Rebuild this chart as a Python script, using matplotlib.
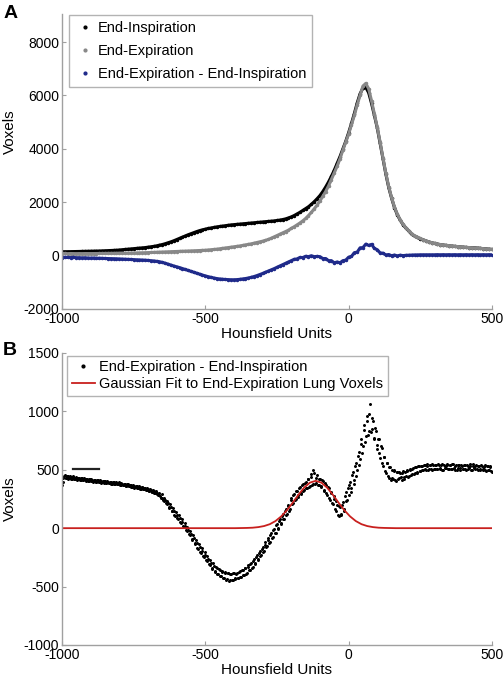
import numpy as np
import matplotlib.pyplot as plt
from matplotlib.lines import Line2D

plt.rcParams['font.family'] = ['Liberation Sans', 'DejaVu Sans']
plt.rcParams['axes.unicode_minus'] = False

# ---- panel A: voxel histograms, 10 HU bins ----
hu_a = np.arange(-1000, 501, 10)

end_insp = [
    150, 145, 145, 148, 150, 150, 152, 155, 158, 160,
    162, 165, 168, 172, 176, 180, 185, 190, 195, 200,
    210, 220, 230, 240, 250, 260, 270, 280, 290, 300,
    315, 330, 345, 365, 390, 415, 445, 480, 515, 555,
    600, 645, 690, 735, 780, 820, 860, 900, 935, 965,
    990, 1015, 1035, 1055, 1075, 1090, 1105, 1120, 1135, 1150,
    1160, 1170, 1180, 1190, 1200, 1210, 1220, 1230, 1240, 1250,
    1260, 1270, 1280, 1290, 1300, 1315, 1330, 1350, 1375, 1410,
    1450, 1500, 1560, 1620, 1690, 1760, 1830, 1920, 2020, 2130,
    2250, 2400, 2570, 2760, 2970, 3200, 3450, 3710, 3990, 4280,
    4600, 4950, 5320, 5720, 6060, 6280, 6300, 6100, 5700, 5250,
    4780, 4200, 3600, 3050, 2550, 2150, 1800, 1530, 1330, 1160,
    1030, 920, 800, 730, 680, 630, 590, 550, 510, 480,
    455, 430, 410, 395, 380, 365, 355, 345, 335, 325,
    315, 305, 300, 295, 290, 280, 270, 260, 250, 240,
    230,
]

end_exp = [
    75, 80, 72, 78, 75, 73, 76, 74, 77, 75,
    76, 78, 77, 79, 80, 81, 82, 83, 84, 85,
    86, 88, 90, 92, 94, 96, 99, 102, 105, 108,
    112, 116, 120, 124, 128, 132, 136, 140, 144, 148,
    152, 156, 160, 165, 170, 175, 180, 185, 190, 195,
    200, 210, 220, 230, 240, 255, 270, 285, 300, 315,
    330, 345, 360, 380, 400, 420, 440, 465, 490, 515,
    540, 570, 605, 650, 700, 750, 800, 850, 900, 950,
    1020, 1080, 1150, 1220, 1300, 1390, 1500, 1620, 1750, 1890,
    2050, 2220, 2400, 2610, 2850, 3100, 3350, 3630, 3950, 4250,
    4550, 4900, 5250, 5650, 6000, 6350, 6450, 6250, 5800, 5300,
    4800, 4250, 3650, 3080, 2580, 2170, 1820, 1550, 1340, 1170,
    1040, 930, 820, 740, 690, 640, 595, 555, 515, 485,
    460, 435, 415, 400, 385, 370, 358, 348, 338, 328,
    318, 308, 302, 296, 290, 282, 272, 262, 252, 242,
    232,
]

diff_a = [
    -90, -60, -70, -75, -65, -80, -78, -85, -80, -90,
    -95, -90, -100, -98, -105, -108, -110, -112, -118, -120,
    -125, -130, -135, -140, -145, -150, -155, -160, -165, -172,
    -180, -190, -200, -215, -230, -255, -285, -320, -355, -390,
    -420, -450, -485, -520, -555, -590, -625, -660, -695, -730,
    -760, -790, -815, -840, -860, -875, -885, -895, -900, -905,
    -905, -900, -890, -875, -860, -840, -815, -785, -750, -710,
    -670, -625, -580, -535, -490, -440, -390, -340, -290, -240,
    -190, -140, -125, -70, -75, -25, -40, -5, -40, -30,
    -40, -110, -110, -190, -190, -270, -240, -270, -190, -170,
    -60, -30, 110, 130, 290, 300, 430, 380, 420, 270,
    220, 100, 90, 25, 40, -5, 20, -10, 15, 0,
    10, 15, 20, 25, 25, 30, 30, 30, 30, 30,
    30, 35, 30, 35, 30, 35, 30, 35, 30, 35,
    30, 35, 30, 35, 30, 35, 30, 35, 30, 35,
    30,
]

# ---- panel B: difference histogram, two interleaved 5 HU samplings ----
hu_b = np.arange(-1000, 501, 5)
hu_b_mid = np.arange(-997.5, 500, 5)

diff_b = [
    372, 428, 451, 433, 444, 427, 441, 424, 436, 421,
    431, 418, 428, 415, 426, 411, 422, 419, 408, 417,
    404, 415, 401, 411, 398, 409, 396, 405, 393, 402,
    401, 388, 398, 385, 395, 382, 392, 380, 390, 377,
    386, 372, 381, 368, 379, 364, 374, 360, 370, 354,
    363, 349, 358, 344, 353, 339, 350, 332, 344, 327,
    338, 320, 330, 311, 318, 298, 302, 282, 285, 262,
    258, 236, 240, 208, 212, 176, 180, 143, 146, 108,
    116, 80, 88, 46, 55, 12, 22, -24, -14, -60,
    -50, -98, -88, -138, -124, -175, -160, -210, -195, -248,
    -230, -283, -264, -318, -295, -348, -322, -375, -340, -395,
    -355, -412, -372, -425, -380, -438, -385, -440, -392, -445,
    -385, -436, -380, -428, -368, -415, -355, -400, -340, -382,
    -318, -360, -295, -332, -262, -300, -232, -268, -196, -230,
    -160, -195, -122, -155, -84, -118, -42, -78, -5, -38,
    36, 4, 78, 44, 118, 82, 160, 122, 198, 165,
    258, 218, 290, 250, 322, 280, 352, 305, 375, 330,
    392, 348, 418, 365, 462, 378, 475, 385, 452, 372,
    425, 350, 405, 318, 372, 285, 340, 240, 300, 205,
    250, 150, 198, 105, 178, 110, 225, 160, 310, 245,
    280, 395, 340, 480, 415, 560, 495, 650, 590, 760,
    700, 880, 790, 960, 830, 1060, 845, 920, 760, 830,
    680, 760, 600, 690, 530, 610, 470, 555, 430, 520,
    500, 420, 490, 400, 485, 430, 470, 415, 490, 440,
    445, 490, 448, 500, 460, 515, 470, 520, 485, 530,
    490, 530, 495, 540, 500, 535, 505, 545, 500, 540,
    510, 545, 505, 540, 512, 548, 500, 535, 515, 545,
    505, 540, 510, 552, 500, 538, 515, 545, 498, 535,
    508, 542, 500, 535, 512, 550, 495, 530, 510, 540,
    500, 535, 505, 528, 495, 540, 490, 530, 500, 525,
    480,
]

diff_b_mid = [
    398, 445, 428, 449, 425, 446, 420, 444, 418, 438,
    414, 433, 411, 430, 409, 428, 405, 425, 402, 421,
    418, 399, 414, 396, 412, 392, 409, 390, 406, 388,
    385, 402, 383, 399, 380, 396, 378, 394, 375, 391,
    371, 387, 366, 382, 363, 378, 360, 373, 355, 368,
    347, 363, 343, 357, 339, 352, 333, 346, 327, 340,
    317, 335, 310, 326, 300, 316, 290, 304, 276, 290,
    245, 262, 218, 236, 185, 207, 150, 175, 115, 140,
    84, 110, 52, 78, 18, 45, -15, 10, -50, -25,
    -92, -60, -130, -100, -168, -135, -202, -168, -240, -205,
    -275, -240, -310, -275, -345, -300, -370, -330, -395, -350,
    -410, -365, -425, -375, -440, -385, -450, -390, -445, -380,
    -430, -390, -425, -372, -418, -360, -405, -345, -390, -332,
    -360, -308, -338, -278, -305, -245, -270, -212, -235, -175,
    -200, -140, -165, -100, -125, -60, -85, -18, -45, 25,
    -5, 62, 35, 105, 75, 145, 110, 190, 150, 240,
    205, 280, 240, 315, 265, 340, 295, 370, 320, 390,
    340, 425, 355, 440, 370, 500, 378, 430, 368, 420,
    360, 410, 330, 390, 300, 350, 255, 310, 215, 275,
    165, 230, 115, 190, 120, 200, 150, 275, 230, 345,
    370, 310, 455, 380, 535, 450, 615, 540, 720, 640,
    840, 740, 920, 800, 980, 820, 940, 770, 860, 710,
    760, 640, 700, 560, 610, 490, 560, 450, 520, 410,
    430, 495, 410, 480, 425, 480, 440, 470, 425, 485,
    495, 440, 505, 455, 510, 465, 525, 475, 535, 490,
    535, 495, 540, 505, 548, 500, 540, 510, 550, 505,
    540, 505, 550, 510, 545, 500, 538, 515, 552, 508,
    545, 505, 548, 512, 535, 500, 545, 518, 540, 505,
    538, 505, 545, 510, 530, 500, 548, 512, 535, 505,
    530, 498, 538, 505, 525, 495, 535, 500, 528, 490,
]

fit_hu = [-1000, -395, -375, -355, -335, -315, -295, -275, -255, -235, -215,
          -195, -175, -155, -135, -115, -95, -75, -55, -35, -15,
          5, 25, 45, 65, 85, 105, 125, 145, 165, 500]
fit_vox = [0, 0, 1, 2, 4, 9, 18, 34, 61, 101, 154,
           218, 286, 347, 390, 405, 390, 347, 286, 218, 154,
           101, 61, 34, 18, 9, 4, 2, 1, 0, 0]

mark_hu = [-960, -870]
mark_vox = [510, 510]

C_BLACK = 'black'
C_GRAY = '#888888'
C_BLUE = '#1f2a8a'
C_RED = '#c8201e'
C_AXIS = '#a0a0a0'


def style_axes(ax, ylim, yticks, ylabel_y):
    for s in ['top', 'right']:
        ax.spines[s].set_visible(False)
    for s in ['left', 'bottom']:
        ax.spines[s].set_color(C_AXIS)
        ax.spines[s].set_linewidth(1)
    ax.set_xlim(-1000, 500)
    ax.set_ylim(*ylim)
    ax.set_xticks([-1000, -500, 0, 500])
    ax.set_yticks(yticks)
    ax.tick_params(direction='in', length=3, color=C_AXIS, labelsize=10, pad=2)
    ax.set_xlabel('Hounsfield Units', fontsize=11, labelpad=1)
    ax.set_ylabel('Voxels', fontsize=11)
    ax.yaxis.set_label_coords(-0.105, ylabel_y)


fig = plt.figure(figsize=(5.04, 6.86), dpi=100)

# Panel A
ax_a = fig.add_axes([0.123, 0.5496, 0.853, 0.430])
for y, c in [(end_insp, C_BLACK), (end_exp, C_GRAY), (diff_a, C_BLUE)]:
    ax_a.plot(hu_a, y, color=c, lw=2.2, marker='.', ms=3, ls='-')
style_axes(ax_a, (-2000, 9050), range(-2000, 8001, 2000), 0.6)
handles_a = [Line2D([], [], ls='none', marker='.', ms=4, color=c)
             for c in (C_BLACK, C_GRAY, C_BLUE)]
leg = ax_a.legend(handles_a, ['End-Inspiration', 'End-Expiration',
                              'End-Expiration - End-Inspiration'],
                  loc='upper left', bbox_to_anchor=(0.016, 0.995),
                  borderaxespad=0, fontsize=10.5, fancybox=False,
                  edgecolor=C_AXIS, handlelength=1.4, handletextpad=0.2,
                  labelspacing=0.6, borderpad=0.4)
leg.get_frame().set_linewidth(1)

# Panel B
ax_b = fig.add_axes([0.123, 0.0598, 0.853, 0.4257])
ax_b.plot(hu_b, diff_b, ls='none', marker='.', ms=2.3, color=C_BLACK)
ax_b.plot(hu_b_mid, diff_b_mid, ls='none', marker='.', ms=2.3, color=C_BLACK)
ax_b.plot(fit_hu, fit_vox, color=C_RED, lw=1.3)
ax_b.plot(mark_hu, mark_vox, color='#222222', lw=1.6)
style_axes(ax_b, (-1000, 1500), range(-1000, 1501, 500), 0.5)
handles_b = [Line2D([], [], ls='none', marker='.', ms=4, color=C_BLACK),
             Line2D([], [], color=C_RED, lw=1.3)]
leg = ax_b.legend(handles_b, ['End-Expiration - End-Inspiration',
                              'Gaussian Fit to End-Expiration Lung Voxels'],
                  loc='upper left', bbox_to_anchor=(0.012, 0.99),
                  borderaxespad=0, fontsize=10.5, fancybox=False,
                  edgecolor=C_AXIS, handlelength=1.6, handletextpad=0.3,
                  labelspacing=0.2, borderpad=0.3)
leg.get_frame().set_linewidth(1)

fig.text(0.006, 0.993, 'A', fontsize=14, fontweight='bold', va='top')
fig.text(0.006, 0.5015, 'B', fontsize=14, fontweight='bold', va='top')

fig.savefig('out.png', dpi=100)
